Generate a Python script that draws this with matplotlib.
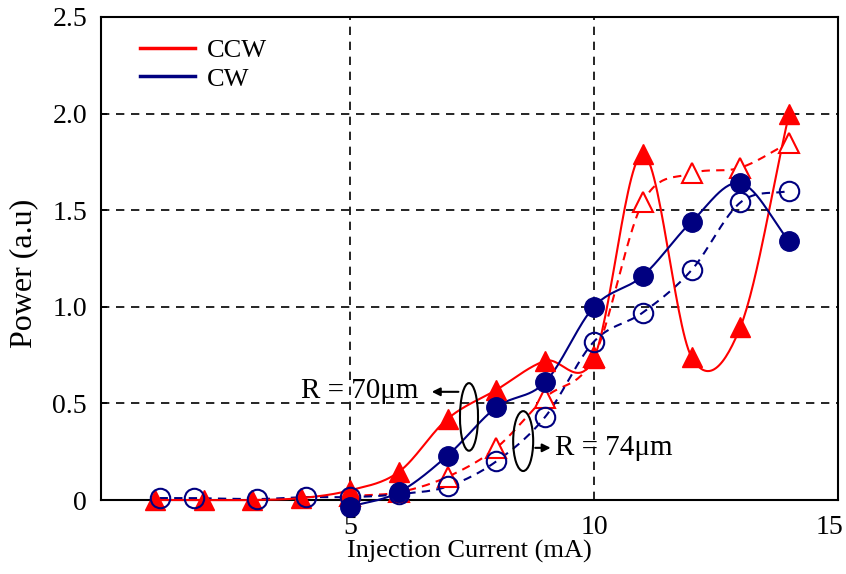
import numpy as np
import matplotlib
matplotlib.use("Agg")
import matplotlib.pyplot as plt
import matplotlib.transforms as mtransforms
from matplotlib.patches import Ellipse

plt.rcParams['font.family'] = ['Liberation Serif', 'DejaVu Serif']

# Data
x_ccw70 = [1, 2, 3, 4, 5, 6, 7, 8, 9, 10, 11, 12, 13, 14]
y_ccw70 = [0.0, 0.0, 0.0, 0.01, 0.05, 0.145, 0.42, 0.57, 0.72, 0.735, 1.79, 0.74, 0.895, 2.0]
x_ccw74 = [5, 6, 7, 8, 9, 10, 11, 12, 13, 14]
y_ccw74 = [0.02, 0.04, 0.12, 0.27, 0.53, 0.74, 1.54, 1.69, 1.72, 1.85]
x_cw70 = [5, 6, 7, 8, 9, 10, 11, 12, 13, 14]
y_cw70 = [-0.035, 0.04, 0.23, 0.48, 0.61, 1.0, 1.16, 1.44, 1.64, 1.34]
x_cw74 = [1.1, 1.8, 3.1, 4.1, 5, 6, 7, 8, 9, 10, 11, 12, 13, 14]
y_cw74 = [0.01, 0.01, 0.005, 0.015, 0.015, 0.03, 0.07, 0.2, 0.43, 0.82, 0.97, 1.19, 1.54, 1.6]

RED = '#ff0000'
NAVY = '#000080'


def smooth(xs, ys, n=30):
    """Catmull-Rom style smoothing for line rendering (Excel-like smoothed line)."""
    xs = np.asarray(xs, float)
    ys = np.asarray(ys, float)
    px = np.concatenate([[2 * xs[0] - xs[1]], xs, [2 * xs[-1] - xs[-2]]])
    py = np.concatenate([[2 * ys[0] - ys[1]], ys, [2 * ys[-1] - ys[-2]]])
    ox, oy = [], []
    t = np.linspace(0, 1, n, endpoint=False)
    for i in range(1, len(px) - 2):
        p0x, p1x, p2x, p3x = px[i - 1:i + 3]
        p0y, p1y, p2y, p3y = py[i - 1:i + 3]
        for arr, a, b, c, d in ((ox, p0x, p1x, p2x, p3x), (oy, p0y, p1y, p2y, p3y)):
            arr.extend(0.5 * ((2 * b) + (-a + c) * t + (2 * a - 5 * b + 4 * c - d) * t ** 2
                              + (-a + 3 * b - 3 * c + d) * t ** 3))
    ox.append(xs[-1]); oy.append(ys[-1])
    return np.array(ox), np.array(oy)


fig = plt.figure(figsize=(8.46, 5.74), dpi=100)
ax = fig.add_axes([0.1194, 0.1289, 0.8711, 0.8415])

# grid
for gx in [5, 10]:
    ax.axvline(gx, color='black', lw=1.2, ls=(0, (5, 4)), zorder=1)
for gy in [0.5, 1.0, 1.5, 2.0]:
    ax.axhline(gy, color='black', lw=1.2, ls=(0, (5, 4)), zorder=1)

# lines
sx, sy = smooth(x_ccw74, y_ccw74)
ax.plot(sx, sy, color=RED, lw=1.5, ls=(0, (4, 3)), zorder=3, clip_on=False)
sx, sy = smooth(x_cw74, y_cw74)
ax.plot(sx, sy, color=NAVY, lw=1.5, ls=(0, (4, 3)), zorder=3, clip_on=False)
sx, sy = smooth(x_ccw70, y_ccw70)
ax.plot(sx, sy, color=RED, lw=1.5, zorder=3, clip_on=False)
sx, sy = smooth(x_cw70, y_cw70)
ax.plot(sx, sy, color=NAVY, lw=1.5, zorder=3, clip_on=False)

# markers
ax.plot(x_ccw74, y_ccw74, ls='none', marker='^', ms=14, mfc='white', mec=RED, mew=1.5,
        zorder=4, clip_on=False)
ax.plot(x_ccw70, y_ccw70, ls='none', marker='^', ms=15, mfc=RED, mec=RED,
        zorder=4, clip_on=False)
ax.plot(x_cw74, y_cw74, ls='none', marker='o', ms=14, mfc='none', mec=NAVY, mew=1.5,
        zorder=5, clip_on=False)
ax.plot(x_cw70, y_cw70, ls='none', marker='o', ms=14, mfc=NAVY, mec=NAVY,
        zorder=5, clip_on=False)

# legend (lines only)
ax.plot([], [], color=RED, lw=2.5, label='CCW')
ax.plot([], [], color=NAVY, lw=2.5, label='CW')
leg = ax.legend(loc='upper left', bbox_to_anchor=(0.02, 1.005), frameon=False,
                fontsize=19, handlelength=2.1, handletextpad=0.45, labelspacing=0.2)

# annotations
ax.add_patch(Ellipse((7.44, 0.43), 0.37, 0.35, fill=False, ec='black', lw=1.5, zorder=6))
ax.add_patch(Ellipse((8.55, 0.305), 0.41, 0.31, fill=False, ec='black', lw=1.5, zorder=6))
ax.annotate('', xy=(6.62, 0.56), xytext=(7.28, 0.56),
            arrowprops=dict(arrowstyle='-|>', color='black', lw=1.5, mutation_scale=12), zorder=6)
ax.annotate('', xy=(9.17, 0.27), xytext=(8.74, 0.27),
            arrowprops=dict(arrowstyle='-|>', color='black', lw=1.5, mutation_scale=12), zorder=6)
ax.text(6.4, 0.565, 'R = 70\u03bcm', ha='right', va='center', fontsize=21, zorder=6)
ax.text(9.2, 0.27, 'R = 74\u03bcm', ha='left', va='center', fontsize=21, zorder=6)

ax.set_xlim(-0.1, 15)
ax.set_ylim(0, 2.5)
ax.set_xticks([5, 10, 15])
ax.set_xticklabels(['5', '10', '15'])
ax.set_yticks([0, 0.5, 1.0, 1.5, 2.0, 2.5])
ax.set_yticklabels(['0', '0.5', '1.0', '1.5', '2.0', '2.5'])
ax.tick_params(axis='both', labelsize=20, direction='in')
ax.tick_params(axis='x', length=0, pad=11)
ax.tick_params(axis='y', length=4, width=1.2, pad=10)
lab15 = ax.get_xticklabels()[-1]
lab15.set_transform(lab15.get_transform() + mtransforms.ScaledTranslation(-0.08, 0, fig.dpi_scale_trans))
for s in ax.spines.values():
    s.set_linewidth(1.5)
    s.set_zorder(2)

ax.set_xlabel('Injection Current (mA)', fontsize=19, labelpad=0)
ax.set_ylabel('Power (a.u)', fontsize=23, labelpad=10)
ax.yaxis.set_label_coords(-0.085, 0.47)

fig.savefig('out.png', dpi=100)
